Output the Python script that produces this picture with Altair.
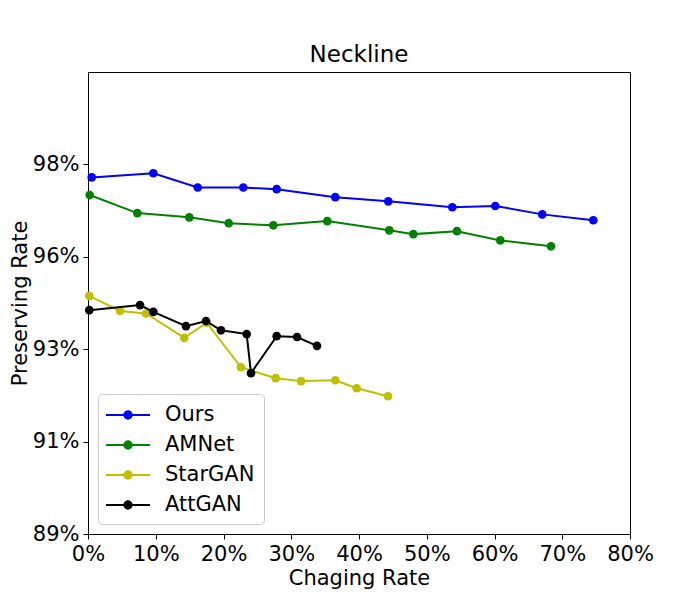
import altair as alt
import pandas as pd

series_names = ["Ours", "AMNet", "StarGAN", "AttGAN"]
series_colors = ["#0000ff", "#008000", "#bfbf00", "#000000"]

ours_x = [0.55, 9.64, 16.19, 22.92, 27.85, 36.50, 44.32, 53.77, 60.12, 67.05, 74.58]
ours_y = [97.49, 97.59, 97.25, 97.25, 97.21, 97.02, 96.92, 96.78, 96.81, 96.61, 96.47]
amnet_x = [0.25, 7.28, 14.95, 20.77, 27.35, 35.32, 44.47, 48.02, 54.46, 60.86, 68.34]
amnet_y = [97.07, 96.64, 96.54, 96.40, 96.35, 96.45, 96.23, 96.14, 96.21, 95.99, 95.85]
stargan_x = [0.19, 4.72, 8.56, 14.21, 17.52, 22.58, 27.70, 31.44, 36.50, 39.66, 44.28]
stargan_y = [94.67, 94.31, 94.25, 93.67, 94.03, 92.97, 92.71, 92.64, 92.66, 92.47, 92.28]
attgan_x = [0.19, 7.68, 9.64, 14.46, 17.42, 19.63, 23.42, 24.06, 27.85, 30.85, 33.80]
attgan_y = [94.33, 94.45, 94.29, 93.95, 94.07, 93.85, 93.76, 92.83, 93.71, 93.69, 93.48]

x_ticks = [0, 10, 20, 30, 40, 50, 60, 70, 80]
y_ticks = [89, 91.2, 93.4, 95.6, 97.8]

rows = []
for name, xs, ys in zip(series_names,
                        [ours_x, amnet_x, stargan_x, attgan_x],
                        [ours_y, amnet_y, stargan_y, attgan_y]):
    for i, (xv, yv) in enumerate(zip(xs, ys)):
        rows.append({"series": name, "x": xv, "y": yv, "idx": i})
df = pd.DataFrame(rows)


def circ(r):
    return f"M{-r},0A{r},{r} 0 1,0 {r},0A{r},{r} 0 1,0 {-r},0Z"


symbol_path = "M-2,0L2,0" + circ(0.332) + circ(0.15) + circ(0.05)

legend = alt.Legend(
    title=None, orient="none", legendX=10, legendY=322,
    symbolType=symbol_path, symbolSize=484, symbolStrokeWidth=2,
    symbolOffset=9, labelOffset=25, labelFontSize=21,
    labelFont="DejaVu Sans", labelColor="black", padding=9, rowPadding=8,
    fillColor="rgba(255,255,255,0.8)", strokeColor="#cccccc",
    cornerRadius=4, symbolOpacity=1,
)

color = alt.Color("series:N",
                  scale=alt.Scale(domain=series_names, range=series_colors),
                  legend=legend)

xenc = alt.X("x:Q", scale=alt.Scale(domain=[0, 80], nice=False),
             axis=alt.Axis(values=x_ticks, labelExpr="datum.value + '%'",
                           labelFlush=False, title="Chaging Rate"))
yenc = alt.Y("y:Q", scale=alt.Scale(domain=[89, 100], nice=False, zero=False),
             axis=alt.Axis(values=y_ticks,
                           labelExpr="format(datum.value, '.0f') + '%'",
                           labelFlush=False, title="Preserving Rate"))

base = alt.Chart(df).encode(x=xenc, y=yenc, color=color, order="idx:Q")

layers = []
for name in series_names:
    sub = base.transform_filter(alt.datum.series == name)
    layers.append(sub.mark_line(strokeWidth=2, clip=True))
    layers.append(sub.mark_point(filled=True, size=75, opacity=1))

chart = alt.layer(*layers).properties(
    width=542, height=462,
    title=alt.TitleParams("Neckline", fontSize=23, font="DejaVu Sans",
                          fontWeight="normal", color="black",
                          baseline="alphabetic", offset=-13),
    autosize=alt.AutoSizeParams(type="none"),
    padding={"left": 80, "top": 64, "right": 62, "bottom": 58},
).configure_view(stroke="black", strokeWidth=1).configure_axis(
    domain=False, grid=False, tickColor="black", tickSize=5, tickWidth=1,
    labelFontSize=21, titleFontSize=21, labelFont="DejaVu Sans",
    titleFont="DejaVu Sans", titleFontWeight="normal", labelColor="black",
    titleColor="black", labelPadding=4,
).configure_axisX(titlePadding=3).configure_axisY(titlePadding=2)

chart.save("out.html", embed_options={"renderer": "svg", "actions": False})
